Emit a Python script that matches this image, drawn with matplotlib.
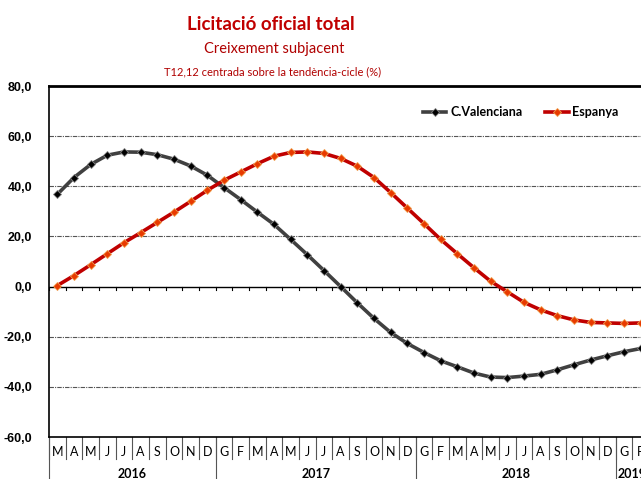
import matplotlib
matplotlib.use("Agg")
import matplotlib.pyplot as plt
from matplotlib.lines import Line2D
from matplotlib.ticker import FuncFormatter

months = ['M', 'A', 'M', 'J', 'J', 'A', 'S', 'O', 'N', 'D',
          'G', 'F', 'M', 'A', 'M', 'J', 'J', 'A', 'S', 'O', 'N', 'D',
          'G', 'F', 'M', 'A', 'M', 'J', 'J', 'A', 'S', 'O', 'N', 'D',
          'G', 'F']
years = ['2016', '2017', '2018', '2019']
year_start = [0, 10, 22, 34]
year_end = [9, 21, 33, 35]

cval = [36.8, 43.5, 48.7, 52.4, 53.7, 53.6, 52.6, 50.8, 48.1, 44.4,
        39.5, 34.7, 29.7, 24.8, 18.8, 12.7, 6.4, 0.0, -6.5, -12.7, -18.3,
        -22.7, -26.3, -29.6, -32.0, -34.5, -36.1, -36.3, -35.7, -35.0,
        -33.2, -31.2, -29.3, -27.6, -26.0, -24.7]
espanya = [0.4, 4.4, 8.7, 13.1, 17.5, 21.5, 25.6, 29.7, 34.0, 38.4,
           42.4, 45.7, 49.0, 52.0, 53.5, 53.7, 53.1, 51.1, 48.0, 43.5, 37.5,
           31.3, 25.1, 18.8, 13.1, 7.5, 2.1, -2.1, -6.3, -9.3, -11.6, -13.3,
           -14.3, -14.5, -14.7, -14.5]

W, H = 641, 479
fig = plt.figure(figsize=(W / 100, H / 100), dpi=100)
left, right, top, bottom = 49, 649, 86, 437
ax = fig.add_axes([left / W, 1 - bottom / H, (right - left) / W, (bottom - top) / H])

x = list(range(len(months)))
ax.set_xlim(-0.5, len(months) - 0.5)
ax.set_ylim(-60, 80)

# grid
for yv in [20, 40, 60, -20, -40]:
    ax.axhline(yv, color='#555555', lw=0.8, ls=(0, (4, 1, 1, 1)), zorder=1)
ax.axhline(0, color='black', lw=1.0, zorder=2)
for k in range(len(months) + 1):
    ax.plot([k - 0.5, k - 0.5], [0, -1.4], color='black', lw=0.8, zorder=2, clip_on=False)

ax.plot(x, cval, color='#404040', lw=2.6, marker='D', ms=4.5,
        mfc='black', mec='#888888', mew=0.6, zorder=3, label='C.Valenciana')
ax.plot(x, espanya, color='#C00000', lw=2.6, marker='D', ms=4.5,
        mfc='#E83A00', mec='#F0A050', mew=0.6, zorder=4, label='Espanya')

ax.spines['right'].set_visible(False)
ax.spines['top'].set_linewidth(2.0)
ax.spines['left'].set_linewidth(1.2)
ax.spines['bottom'].set_linewidth(1.2)

ax.set_yticks([-60, -40, -20, 0, 20, 40, 60, 80])
ax.yaxis.set_major_formatter(FuncFormatter(lambda v, p: f"{v:.1f}".replace('.', ',')))
ax.tick_params(axis='y', length=0, pad=12)
for lab in ax.get_yticklabels():
    lab.set_fontfamily('Liberation Sans')
    lab.set_fontweight('bold')
    lab.set_fontsize(9)
ax.set_xticks([])

trans = ax.get_xaxis_transform()
for i, m in enumerate(months):
    ax.text(i, -0.043, m, transform=trans, ha='center', va='center',
            fontsize=9, family='Lato', color='black', clip_on=False)
for k in range(len(months) + 1):
    ax.add_line(Line2D([k - 0.5, k - 0.5], [0, -0.062], transform=trans,
                       color='#555555', lw=0.8, clip_on=False))
for ys, ye, yl in zip(year_start, year_end, years):
    ax.text((ys + ye) / 2, -0.106, yl, transform=trans, ha='center', va='center',
            fontsize=9, family='Lato', fontweight='bold', clip_on=False)
    ax.add_line(Line2D([ys - 0.5, ys - 0.5], [0, -0.14], transform=trans,
                       color='#555555', lw=0.8, clip_on=False))

leg = ax.legend(loc='upper right', bbox_to_anchor=(630 / W, 1 - 95 / H),
                bbox_transform=fig.transFigure, ncol=2, frameon=False,
                prop={'family': 'Lato', 'weight': 'bold', 'size': 9},
                handlelength=1.9, columnspacing=1.8, handletextpad=0.3)

fig.text(271 / W, 1 - 24 / H, 'Licitació oficial total', ha='center', va='center',
         fontsize=13.5, family='Lato', fontweight='bold', color='#C00000')
fig.text(274 / W, 1 - 49 / H, 'Creixement subjacent', ha='center', va='center',
         fontsize=10.5, family='Lato', color='#B00000')
fig.text(273 / W, 1 - 72 / H, 'T12,12 centrada sobre la tendència-cicle (%)', ha='center',
         va='center', fontsize=8, family='Lato', color='#B00000')

fig.savefig('out.png', dpi=100)
